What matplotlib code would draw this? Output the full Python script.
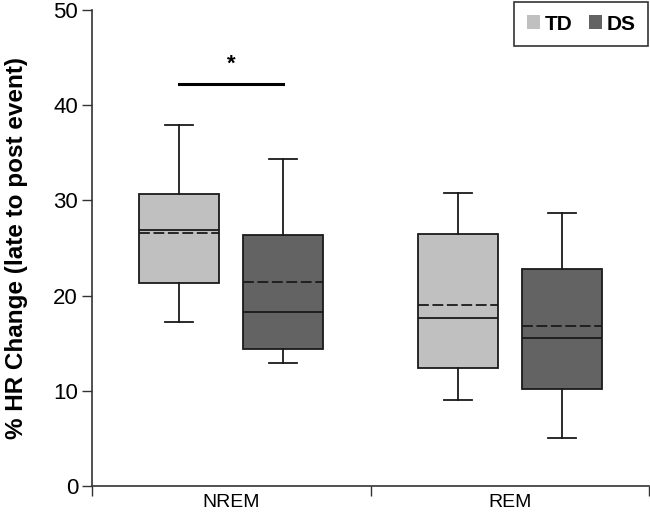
import matplotlib
matplotlib.use("Agg")
import matplotlib.pyplot as plt
from matplotlib.patches import Patch

categories = ["NREM", "REM"]
groups = ["TD", "DS"]
colors = {"TD": "#c0c0c0", "DS": "#636363"}

# stats per category, per group: whislo, q1, med, mean, q3, whishi
td_stats = [
    dict(whislo=17.2, q1=21.3, med=26.9, mean=26.6, q3=30.7, whishi=37.9),
    dict(whislo=9.0, q1=12.4, med=17.6, mean=19.0, q3=26.5, whishi=30.8),
]
ds_stats = [
    dict(whislo=12.9, q1=14.4, med=18.3, mean=21.4, q3=26.4, whishi=34.4),
    dict(whislo=5.0, q1=10.2, med=15.5, mean=16.8, q3=22.8, whishi=28.7),
]
sig_y = 42.2
sig_label = "*"

yticks = [0, 10, 20, 30, 40, 50]

plt.rcParams['font.family'] = ['Liberation Sans Narrow', 'Liberation Sans', 'DejaVu Sans']

fig = plt.figure(figsize=(6.5, 5.19), dpi=100)
ax = fig.add_axes([92/650, 33/519, 557/650, 476/519])

offset = 0.187
width = 0.287
edge = "#1a1a1a"
centers = [0.5, 1.5]

for stats, grp, sign in [(td_stats, "TD", -1), (ds_stats, "DS", 1)]:
    pos = [c + sign * offset for c in centers]
    st = [dict(s, fliers=[]) for s in stats]
    ax.bxp(st, positions=pos, widths=width, patch_artist=True,
           showmeans=True, meanline=True, showfliers=False,
           capwidths=0.1,
           boxprops=dict(facecolor=colors[grp], edgecolor=edge, linewidth=1.3),
           medianprops=dict(color=edge, linewidth=1.3),
           meanprops=dict(color=edge, linestyle=(0, (6, 2)), linewidth=1.3),
           whiskerprops=dict(color=edge, linewidth=1.3),
           capprops=dict(color=edge, linewidth=1.3))

# significance bar
x1 = centers[0] - offset
x2 = centers[0] + offset
ax.plot([x1, x2], [sig_y, sig_y], color="black", linewidth=2.2)
ax.text(centers[0], sig_y + 1.0, sig_label, ha="center", va="bottom",
        fontsize=16, fontweight="bold", family=['Liberation Sans', 'DejaVu Sans'])

ax.set_xlim(0, 2)
ax.set_ylim(0, 50)
ax.set_yticks(yticks)
ax.set_yticklabels([str(t) for t in yticks], fontsize=16)
ax.set_xticks([0, 1, 2])
ax.set_xticklabels([])
ax.set_xticks(centers, minor=True)
ax.set_xticklabels(categories, minor=True, fontsize=14)
ax.tick_params(axis="x", which="minor", length=0, pad=6)
ax.tick_params(axis="x", which="major", length=7, width=1, color="#333333")
ax.tick_params(axis="y", length=7, width=1, color="#333333", pad=3)

for s in ["top", "right"]:
    ax.spines[s].set_visible(False)
for s in ["left", "bottom"]:
    ax.spines[s].set_color("#333333")
    ax.spines[s].set_linewidth(1.2)

ax.set_ylabel("% HR Change (late to post event)", fontsize=17.5, fontweight="bold",
              family=['Liberation Sans', 'DejaVu Sans'], labelpad=18)

handles = [Patch(facecolor=colors[g], edgecolor="none") for g in groups]
leg = fig.legend(handles, groups, loc="upper right",
                 bbox_to_anchor=(648/650, 1 - 2/519), ncol=2,
                 prop=dict(family=['Liberation Sans', 'DejaVu Sans'], weight="bold", size=15),
                 frameon=True, fancybox=False, edgecolor="black",
                 handlelength=0.65, handleheight=0.65, handletextpad=0.2,
                 columnspacing=0.8, borderpad=0.6, borderaxespad=0.0)
leg.get_frame().set_linewidth(1.2)

fig.savefig("out.png", dpi=100)
